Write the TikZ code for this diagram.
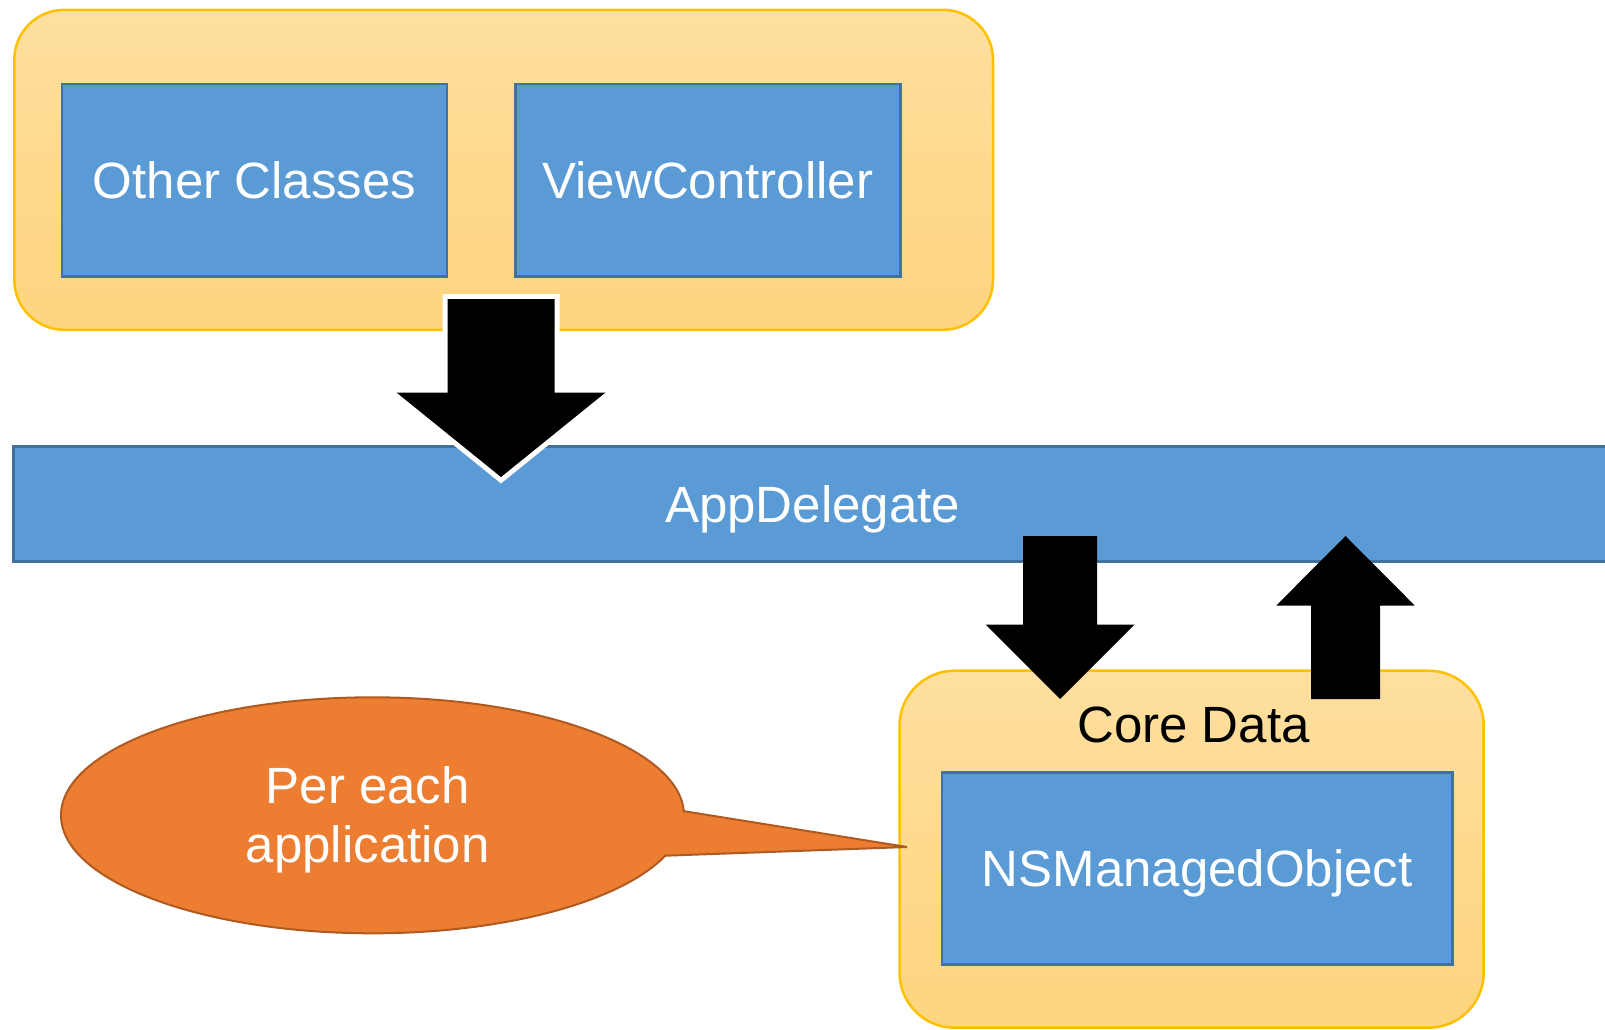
\documentclass[tikz,border=0pt]{standalone}
\usepackage{fontspec}
\setmainfont{Liberation Sans}
\usetikzlibrary{shapes.geometric,calc}
\definecolor{boxblue}{RGB}{91,155,213}
\definecolor{boxedge}{RGB}{65,113,156}
\definecolor{grpedge}{RGB}{255,192,0}
\definecolor{grptop}{RGB}{254,223,158}
\definecolor{grpbot}{RGB}{254,213,127}
\definecolor{callfill}{RGB}{237,125,49}
\definecolor{calledge}{RGB}{174,90,33}
\begin{document}
\begin{tikzpicture}[x=0.5pt,y=-0.5pt,
  every node/.style={inner sep=0pt, outer sep=0pt},
  txt/.style={font=\fontsize{25.5}{29.7}\selectfont},
  group/.style={rectangle, draw=grpedge, line width=1.25pt, top color=grptop, bottom color=grpbot},
  cls/.style={rectangle, draw=boxedge, line width=1.25pt, fill=boxblue, text=white, txt, text depth=0pt},
  blockarrow/.style={fill=black},
  outlined/.style={preaction={draw=white, line width=5pt, line join=miter}, fill=black},
  callout/.style={fill=callfill, draw=calledge, line width=1pt}]
\useasboundingbox (0,0) rectangle (1605,1029);

% top group
\node[group, rounded corners=25pt, minimum width=489.35pt, minimum height=160pt] (app) at (503.65,169.8) {};
\node[cls, minimum width=192.45pt, minimum height=96.3pt] (other) at (254.4,180.3) {Other Classes};
\node[cls, minimum width=192.6pt, minimum height=96.3pt] (vc) at (707.9,180.3) {ViewController};

% AppDelegate bar
\node[cls, minimum width=799.35pt, minimum height=57.5pt] (delegate) at (812.65,504.2) {AppDelegate};

% Core Data group
\node[group, rounded corners=27.5pt, minimum width=292.1pt, minimum height=178.5pt] (core) at (1191.6,849.2) {};
\node[cls, minimum width=255.2pt, minimum height=96pt] (nsmo) at (1197.2,868.3) {NSManagedObject};
\node[txt, anchor=base] (corelabel) at (1193.4,742) {Core Data};

% callout
\node[ellipse, callout, minimum width=311.5pt, minimum height=118pt] (call) at (372.5,815.3) {};
\coordinate (callA) at (683,811);
\coordinate (callB) at (665,855.7);
\coordinate (calltip) at (907,847);
\path[callout, line join=miter] (callA) -- (calltip) -- (callB);
\node[txt, text=white, align=center] (calltext) at (367.8,819.5) {Per each\\application};

% big arrow: app -> delegate
\coordinate (a1s) at (501,299);
\coordinate (a1e) at (501,477);
\path[outlined] ($(a1s)+(-53.5,0)$) -- ($(a1s)+(53.5,0)$) -- ($(a1s)+(53.5,93.5)$) -- ($(a1s)+(104.5,93.5)$)
  -- (a1e) -- ($(a1s)+(-104.5,93.5)$) -- ($(a1s)+(-53.5,93.5)$) -- cycle;

% down arrow: delegate -> core
\coordinate (a2s) at (1060,536);
\coordinate (a2e) at (1060,699);
\path[blockarrow] ($(a2s)+(-37,0)$) -- ($(a2s)+(37,0)$) -- ($(a2s)+(37,88.5)$) -- ($(a2s)+(74.5,88.5)$)
  -- (a2e) -- ($(a2s)+(-74.5,88.5)$) -- ($(a2s)+(-37,88.5)$) -- cycle;

% up arrow: core -> delegate
\coordinate (a3s) at (1345.5,699);
\coordinate (a3e) at (1345.5,536);
\path[blockarrow] ($(a3s)+(-34.5,0)$) -- ($(a3s)+(34.5,0)$) -- ($(a3s)+(34.5,-93.5)$) -- ($(a3s)+(69.2,-93.5)$)
  -- (a3e) -- ($(a3s)+(-69.2,-93.5)$) -- ($(a3s)+(-34.5,-93.5)$) -- cycle;
\end{tikzpicture}
\end{document}
